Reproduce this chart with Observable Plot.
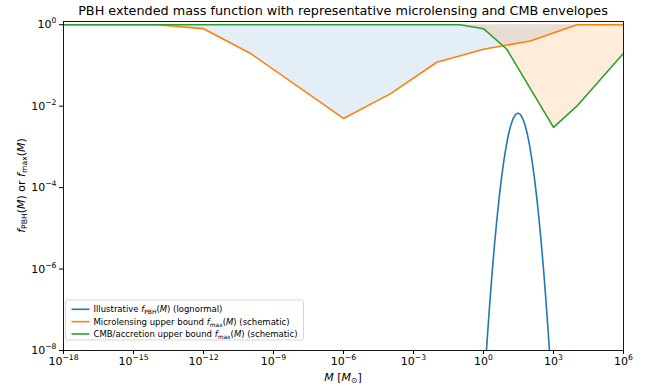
<!DOCTYPE html>
<html><head><meta charset="utf-8">
<script src="https://cdn.jsdelivr.net/npm/d3@7"></script>
<script src="https://cdn.jsdelivr.net/npm/@observablehq/plot@0.6"></script>
<style>html,body{margin:0;padding:0;background:#fff;overflow:hidden}</style>
</head><body><div id="chart"></div>
<script>
// ---- data ----
const titleText = "PBH extended mass function with representative microlensing and CMB envelopes";
const pbhM = [0.95, 1.19, 1.5, 1.89, 2.38, 3.0, 3.78, 4.75, 5.99, 7.54, 9.49, 11.9, 15.0, 18.9, 23.8, 30, 37.8, 47.5, 59.9, 75.4, 94.9, 119, 150, 189, 238, 300, 378, 475, 599, 754, 949];
const pbhF = [4.3e-10, 3.65e-9, 2.66e-8, 1.68e-7, 9.1e-7, 4.29e-6, 1.74e-5, 6.07e-5, 1.83e-4, 4.78e-4, 1.07e-3, 2.08e-3, 3.48e-3, 5.04e-3, 6.28e-3, 6.76e-3, 6.28e-3, 5.04e-3, 3.48e-3, 2.08e-3, 1.07e-3, 4.78e-4, 1.83e-4, 6.07e-5, 1.74e-5, 4.29e-6, 9.1e-7, 1.68e-7, 2.66e-8, 3.65e-9, 4.3e-10];
const microM = [1e-18, 1e-14, 1e-12, 1e-10, 1e-6, 1e-4, 1e-2, 1e0, 1e2, 1e4, 1e6];
const microF = [1, 1, 0.8, 0.2, 0.005, 0.02, 0.12, 0.25, 0.4, 1, 1];
const cmbM = [1e-18, 1e-1, 1e0, 1e1, 1e3, 1e4, 1e6];
const cmbF = [1, 1, 0.8, 0.25, 0.003, 0.01, 0.2];
const xTicks = [1e-18, 1e-15, 1e-12, 1e-9, 1e-6, 1e-3, 1e0, 1e3, 1e6];
const yTicks = [1e-8, 1e-6, 1e-4, 1e-2, 1e0];
const legendItems = [
  {color: "#1f77b4", segs: [{t: "Illustrative "}, {t: "f", i: true}, {t: "PBH", sub: true}, {t: "("}, {t: "M", i: true}, {t: ") (lognormal)"}]},
  {color: "#ff7f0e", segs: [{t: "Microlensing upper bound "}, {t: "f", i: true}, {t: "max", sub: true}, {t: "("}, {t: "M", i: true}, {t: ") (schematic)"}]},
  {color: "#2ca02c", segs: [{t: "CMB/accretion upper bound "}, {t: "f", i: true}, {t: "max", sub: true}, {t: "("}, {t: "M", i: true}, {t: ") (schematic)"}]}
];

const C0 = "#1f77b4", C1 = "#ff7f0e", C2 = "#2ca02c";
const pbh = pbhM.map((m, i) => ({M: m, f: pbhF[i]}));
const micro = microM.map((m, i) => ({M: m, f: microF[i]}));
const cmb = cmbM.map((m, i) => ({M: m, f: cmbF[i]}));
const expOf = v => Math.round(Math.log10(v));

const svg = Plot.plot({
  width: 651, height: 386,
  marginLeft: 63, marginRight: 28, marginTop: 21, marginBottom: 36,
  style: {fontFamily: "'DejaVu Sans', sans-serif", fontSize: "11px", color: "#000", background: "#fff", overflow: "visible"},
  x: {type: "log", domain: [1e-18, 1e6], ticks: xTicks, tickFormat: v => "10^" + expOf(v), tickSize: 4, tickPadding: 3, label: null},
  y: {type: "log", domain: [1e-8, 1.2], ticks: yTicks, tickFormat: v => "10^" + expOf(v), tickSize: 4, tickPadding: 3, label: null},
  marks: [
    Plot.areaY(micro, {x: "M", y1: "f", y2: () => 1, fill: C0, fillOpacity: 0.12}),
    Plot.areaY(cmb, {x: "M", y1: "f", y2: () => 1, fill: C1, fillOpacity: 0.15}),
    Plot.line(pbh, {x: "M", y: "f", stroke: C0, strokeWidth: 1.6, clip: true}),
    Plot.line(micro, {x: "M", y: "f", stroke: C1, strokeWidth: 1.6, clip: true}),
    Plot.line(cmb, {x: "M", y: "f", stroke: C2, strokeWidth: 1.6, clip: true}),
    Plot.frame({stroke: "#000", strokeWidth: 0.9})
  ]
});
document.getElementById("chart").appendChild(svg);

// rich text helper (italic / sub / superscripts)
function rich(sel, segs, fs) {
  let shift = 0;
  segs.forEach(s => {
    const target = s.sub ? 0.22 * fs : s.sup ? -0.45 * fs : 0;
    const ts = sel.append("tspan").text(s.t);
    if (target !== shift) { ts.attr("dy", target - shift); shift = target; }
    if (s.sub || s.sup) ts.attr("font-size", fs * 0.7);
    if (s.i) ts.attr("font-style", "italic");
  });
}

// exponent tick labels
svg.querySelectorAll("text").forEach(t => {
  const m = t.textContent.match(/^10\^(-?\d+)$/);
  if (!m) return;
  t.textContent = "";
  const sel = d3.select(t);
  sel.append("tspan").text("10");
  sel.append("tspan").attr("dy", -5).attr("font-size", 7.7).text(m[1].replace("-", "\u2212"));
});

const root = d3.select(svg);
const ff = "'DejaVu Sans', sans-serif";
// title
root.append("text").attr("x", 343).attr("y", 15).attr("text-anchor", "middle")
  .attr("font-family", ff).attr("font-size", 12.8).attr("fill", "#000").text(titleText);
// x label
const xl = root.append("text").attr("x", 343).attr("y", 381).attr("text-anchor", "middle")
  .attr("font-family", ff).attr("font-size", 11).attr("fill", "#000");
rich(xl, [{t: "M", i: true}, {t: " ["}, {t: "M", i: true}, {t: "\u2299", sub: true}, {t: "]"}], 11);
// y label
const yl = root.append("text").attr("transform", "translate(24.5,185.5) rotate(-90)").attr("text-anchor", "middle")
  .attr("font-family", ff).attr("font-size", 11).attr("fill", "#000");
rich(yl, [{t: "f", i: true}, {t: "PBH", sub: true}, {t: "("}, {t: "M", i: true}, {t: ") or "}, {t: "f", i: true}, {t: "max", sub: true}, {t: "("}, {t: "M", i: true}, {t: ")"}], 11);

// legend
const lg = root.append("g").attr("text-anchor", "start");
lg.append("rect").attr("x", 65.5).attr("y", 300).attr("width", 238).attr("height", 40).attr("rx", 2)
  .attr("fill", "#fff").attr("fill-opacity", 0.8).attr("stroke", "#ccc").attr("stroke-width", 0.8);
legendItems.forEach((it, i) => {
  const yy = 309.3 + i * 12.35;
  lg.append("line").attr("x1", 71.5).attr("x2", 89.5).attr("y1", yy).attr("y2", yy)
    .attr("stroke", it.color).attr("stroke-width", 1.6);
  const t = lg.append("text").attr("x", 93.5).attr("y", yy + 3).attr("text-anchor", "start")
    .attr("font-family", ff).attr("font-size", 8.5).attr("fill", "#000");
  rich(t, it.segs, 8.5);
});
</script>
</body></html>
